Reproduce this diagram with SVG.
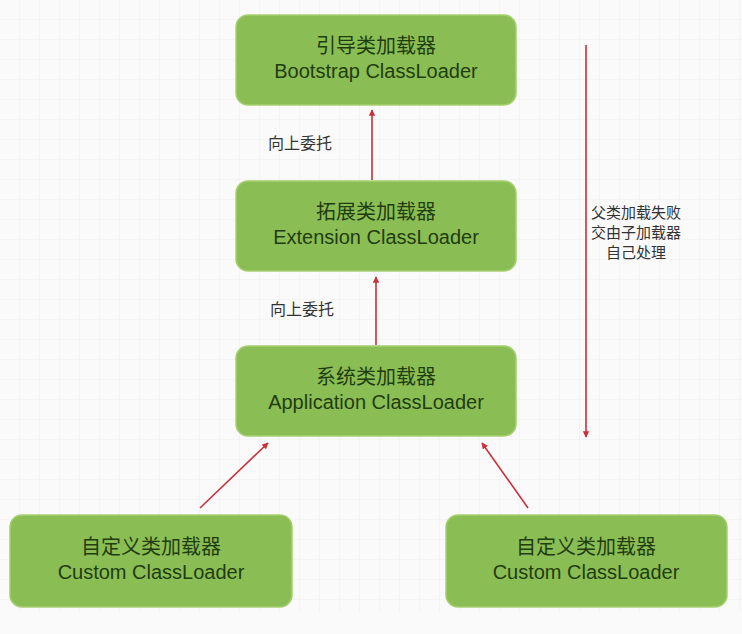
<svg xmlns="http://www.w3.org/2000/svg" width="742" height="634" viewBox="0 0 742 634">
<defs>
<pattern id="grid" width="20" height="20" patternUnits="userSpaceOnUse"><path d="M20 0V20H0" fill="none" stroke="#eeeeee" stroke-width="1"/></pattern>
<marker id="ah" viewBox="0 0 10 10" refX="9" refY="5" markerWidth="4" markerHeight="4" orient="auto"><path d="M0 0L10 5L0 10z" fill="#c9303a"/></marker>
<style>
.box{fill:#8bbd55;stroke:#a6d070;stroke-width:1.5}
.t{font-family:"Liberation Sans","Noto Sans CJK SC",sans-serif;font-size:20px;fill:#1f3d0f;text-anchor:middle}
.l{font-family:"Noto Sans CJK SC",sans-serif;font-size:16px;fill:#333}
.r{font-family:"Noto Sans CJK SC",sans-serif;font-size:15px;fill:#333;text-anchor:middle}
.c{stroke:#c9303a;stroke-width:1.6;fill:none;marker-end:url(#ah)}
</style>
</defs>
<rect width="742" height="634" fill="#fafafa"/>
<rect x="0" y="0" width="742" height="612" fill="url(#grid)"/>
<g id="connectors">
<line class="c" x1="372" y1="180" x2="372" y2="110"/>
<line class="c" x1="376" y1="345" x2="376" y2="277"/>
<line class="c" x1="200" y1="508" x2="268" y2="443"/>
<line class="c" x1="528" y1="508" x2="482" y2="443"/>
<line class="c" x1="586" y1="45" x2="586" y2="437"/>
<text class="l" x="268" y="149">向上委托</text>
<text class="l" x="270" y="315">向上委托</text>
<text class="r" x="636" y="218">父类加载失败</text>
<text class="r" x="636" y="238">交由子加载器</text>
<text class="r" x="636" y="258">自己处理</text>
</g>
<g id="bootstrap"><rect class="box" x="236" y="15" width="280" height="90" rx="12"/><text class="t" x="376" y="53">引导类加载器</text><text class="t" x="376" y="78">Bootstrap ClassLoader</text></g>
<g id="extension"><rect class="box" x="236" y="181" width="280" height="90" rx="12"/><text class="t" x="376" y="219">拓展类加载器</text><text class="t" x="376" y="244">Extension ClassLoader</text></g>
<g id="application"><rect class="box" x="236" y="346" width="280" height="90" rx="12"/><text class="t" x="376" y="384">系统类加载器</text><text class="t" x="376" y="409">Application ClassLoader</text></g>
<g id="custom1"><rect class="box" x="10" y="515" width="282" height="92" rx="12"/><text class="t" x="151" y="554">自定义类加载器</text><text class="t" x="151" y="579">Custom ClassLoader</text></g>
<g id="custom2"><rect class="box" x="446" y="515" width="281" height="92" rx="12"/><text class="t" x="586" y="554">自定义类加载器</text><text class="t" x="586" y="579">Custom ClassLoader</text></g>
</svg>
